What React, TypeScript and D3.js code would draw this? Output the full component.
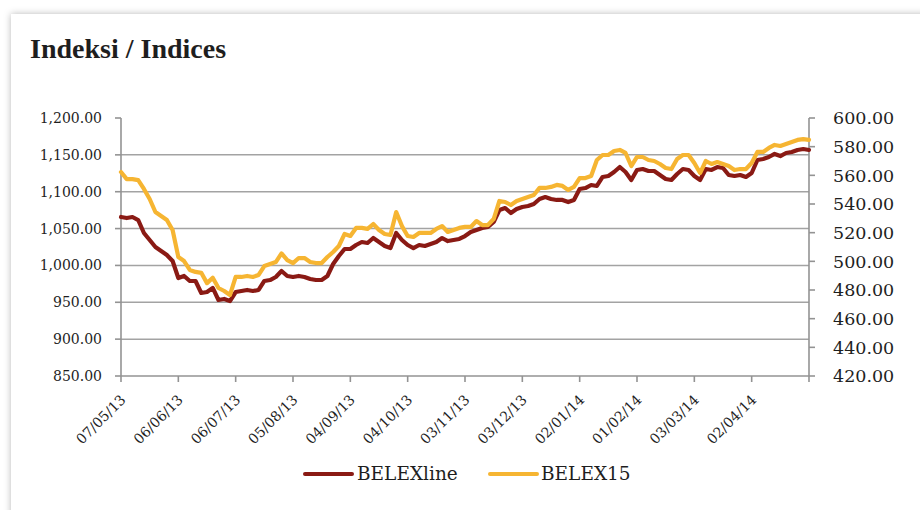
import React from "react";
import * as d3 from "d3";

const title = "Indeksi / Indices";

const tickLabels = [
  "07/05/13", "06/06/13", "06/07/13", "05/08/13", "04/09/13", "04/10/13",
  "03/11/13", "03/12/13", "02/01/14", "01/02/14", "03/03/14", "02/04/14",
];

const belexline = [
  1065.7, 1064.3, 1065.7, 1061.6, 1044.0, 1034.5, 1025.0, 1019.6, 1014.1, 1006.0,
  982.9, 985.7, 978.9, 978.9, 962.6, 963.9, 969.5, 953.1, 954.5, 951.7,
  963.9, 965.3, 966.7, 965.3, 966.7, 978.9, 980.2, 984.3, 992.4, 985.7,
  984.3, 985.7, 984.3, 981.6, 980.2, 980.2, 985.7, 1001.9, 1012.8, 1022.3,
  1022.3, 1027.7, 1031.8, 1030.4, 1037.2, 1031.8, 1026.4, 1023.6, 1044.0, 1034.5,
  1027.7, 1023.6, 1027.7, 1026.4, 1029.1, 1031.8, 1037.2, 1033.1, 1034.5, 1035.9,
  1039.9, 1045.3, 1048.1, 1050.8, 1052.1, 1058.9, 1075.2, 1077.9, 1071.1, 1076.5,
  1079.3, 1080.6, 1083.3, 1090.1, 1092.8, 1090.1, 1088.8, 1088.8, 1086.0, 1088.8,
  1103.7, 1105.0, 1109.1, 1107.8, 1120.0, 1121.3, 1126.7, 1133.5, 1126.7, 1115.9,
  1129.5, 1130.8, 1128.1, 1128.1, 1122.7, 1117.2, 1115.9, 1124.0, 1130.8, 1129.5,
  1121.3, 1115.9, 1130.8, 1129.5, 1133.5, 1132.2, 1122.7, 1121.3, 1122.7, 1120.0,
  1125.4, 1143.0, 1144.4, 1147.1, 1151.2, 1148.4, 1152.5, 1153.9, 1156.6, 1157.9,
  1156.6,
];

const belex15 = [
  562.3, 557.4, 557.4, 556.7, 550.5, 543.5, 534.4, 531.6, 528.8, 521.9,
  503.0, 500.2, 494.0, 492.6, 492.0, 484.8, 488.6, 481.4, 479.3, 476.5,
  489.1, 489.1, 489.8, 489.1, 490.5, 496.7, 498.1, 499.5, 505.5, 500.9,
  498.8, 502.3, 502.3, 499.5, 498.8, 498.8, 503.0, 506.5, 510.7, 519.1,
  517.7, 523.3, 523.3, 522.6, 526.0, 521.9, 519.1, 518.4, 534.4, 524.6,
  517.7, 517.0, 519.8, 519.8, 519.8, 522.6, 524.6, 520.5, 521.9, 523.3,
  524.0, 524.0, 528.1, 525.3, 525.3, 529.5, 542.1, 541.4, 539.3, 542.1,
  543.5, 544.9, 546.3, 551.2, 551.2, 551.9, 553.3, 552.6, 549.8, 551.9,
  558.1, 558.1, 559.5, 570.7, 574.2, 574.2, 577.0, 577.7, 575.6, 566.5,
  572.8, 572.8, 570.7, 570.0, 567.9, 565.1, 564.4, 571.4, 574.2, 574.2,
  568.6, 561.6, 570.0, 567.9, 569.3, 567.9, 566.5, 563.7, 564.4, 564.4,
  568.6, 576.3, 576.3, 579.1, 581.2, 580.5, 581.9, 583.3, 584.7, 585.3,
  584.7,
];

const leftTicks = [850, 900, 950, 1000, 1050, 1100, 1150, 1200];
const rightTicks = [420, 440, 460, 480, 500, 520, 540, 560, 580, 600];

const seriesNames = ["BELEXline", "BELEX15"];

const W = 920;
const H = 510;
const plot = { left: 121, right: 809, top: 118, bottom: 376 };
const RED = "#8a1a14";
const YELLOW = "#f6b532";
const GRID = "#a3a3a3";
const AXIS = "#939393";
const TEXT = "#1e1e1e";
const SERIF = "'DejaVu Serif', serif";

export default function App() {
  const n = belexline.length;
  const x = d3.scaleLinear().domain([0, n - 1]).range([plot.left, plot.right]);
  const yL = d3.scaleLinear().domain([850, 1200]).range([plot.bottom, plot.top]);
  const yR = d3.scaleLinear().domain([420, 600]).range([plot.bottom, plot.top]);
  const fmtL = d3.format(",.2f");
  const fmtR = d3.format(".2f");

  const lineL = d3
    .line<number>()
    .x((_, i) => x(i))
    .y((d) => yL(d));
  const lineR = d3
    .line<number>()
    .x((_, i) => x(i))
    .y((d) => yR(d));

  const step = (n - 1) / tickLabels.length;
  const xTickIdx = d3.range(0, tickLabels.length + 1).map((k) => k * step);

  return (
    <svg
      width={W}
      height={H}
      viewBox={`0 0 ${W} ${H}`}
      style={{ position: "absolute", left: 0, top: 0, display: "block", background: "#fff" }}
    >
      <defs>
        <filter id="cardShadow" x="-5%" y="-5%" width="110%" height="110%">
          <feDropShadow dx="0" dy="0" stdDeviation="3.5" floodColor="#000" floodOpacity="0.28" />
        </filter>
      </defs>
      <rect x={0} y={0} width={W} height={H} fill="#fff" />
      <rect x={11} y={14} width={940} height={540} fill="#fff" filter="url(#cardShadow)" />

      <text
        x={30}
        y={58}
        fontFamily="'Liberation Serif', serif"
        fontWeight="bold"
        fontSize={28}
        fill={TEXT}
      >
        {title}
      </text>

      {leftTicks
        .filter((t) => t !== 850 && t !== 1200)
        .map((t) => (
          <line
            key={"g" + t}
            x1={plot.left}
            x2={plot.right}
            y1={yL(t)}
            y2={yL(t)}
            stroke={GRID}
            strokeWidth={1.5}
          />
        ))}

      <line x1={plot.left} x2={plot.left} y1={plot.top} y2={plot.bottom} stroke={AXIS} strokeWidth={1.6} />
      <line x1={plot.right} x2={plot.right} y1={plot.top} y2={plot.bottom} stroke={AXIS} strokeWidth={1.6} />
      <line x1={plot.left} x2={plot.right} y1={plot.bottom} y2={plot.bottom} stroke={AXIS} strokeWidth={1.6} />

      {leftTicks.map((t) => (
        <g key={"l" + t}>
          <line x1={plot.left - 6} x2={plot.left} y1={yL(t)} y2={yL(t)} stroke={AXIS} strokeWidth={1.6} />
          <text
            x={102}
            y={yL(t)}
            dy="0.36em"
            textAnchor="end"
            fontFamily={SERIF}
            fontSize={14}
            fill={TEXT}
          >
            {fmtL(t)}
          </text>
        </g>
      ))}

      {rightTicks.map((t) => (
        <g key={"r" + t}>
          <line x1={plot.right} x2={plot.right + 6} y1={yR(t)} y2={yR(t)} stroke={AXIS} strokeWidth={1.6} />
          <text
            x={833}
            y={yR(t)}
            dy="0.36em"
            textAnchor="start"
            fontFamily={SERIF}
            fontSize={17.5}
            fill={TEXT}
          >
            {fmtR(t)}
          </text>
        </g>
      ))}

      {xTickIdx.map((idx, k) => (
        <g key={"x" + k}>
          <line x1={x(idx)} x2={x(idx)} y1={plot.bottom} y2={plot.bottom + 6} stroke={AXIS} strokeWidth={1.6} />
          {k < tickLabels.length && (
            <text
              transform={`translate(${x(idx) + 2},${plot.bottom + 21}) rotate(-45)`}
              dy="0.36em"
              textAnchor="end"
              fontFamily={SERIF}
              fontSize={14}
              fill={TEXT}
            >
              {tickLabels[k]}
            </text>
          )}
        </g>
      ))}

      <path
        d={lineL(belexline) || ""}
        fill="none"
        stroke={RED}
        strokeWidth={4.2}
        strokeLinejoin="round"
        strokeLinecap="round"
      />
      <path
        d={lineR(belex15) || ""}
        fill="none"
        stroke={YELLOW}
        strokeWidth={4.2}
        strokeLinejoin="round"
        strokeLinecap="round"
      />

      <g>
        <line x1={305} x2={352} y1={474} y2={474} stroke={RED} strokeWidth={4} strokeLinecap="round" />
        <text x={357} y={480} fontFamily={SERIF} fontSize={18.5} fill={TEXT}>
          {seriesNames[0]}
        </text>
        <line x1={490} x2={537} y1={474} y2={474} stroke={YELLOW} strokeWidth={4} strokeLinecap="round" />
        <text x={541} y={480} fontFamily={SERIF} fontSize={18.5} fill={TEXT}>
          {seriesNames[1]}
        </text>
      </g>
    </svg>
  );
}
